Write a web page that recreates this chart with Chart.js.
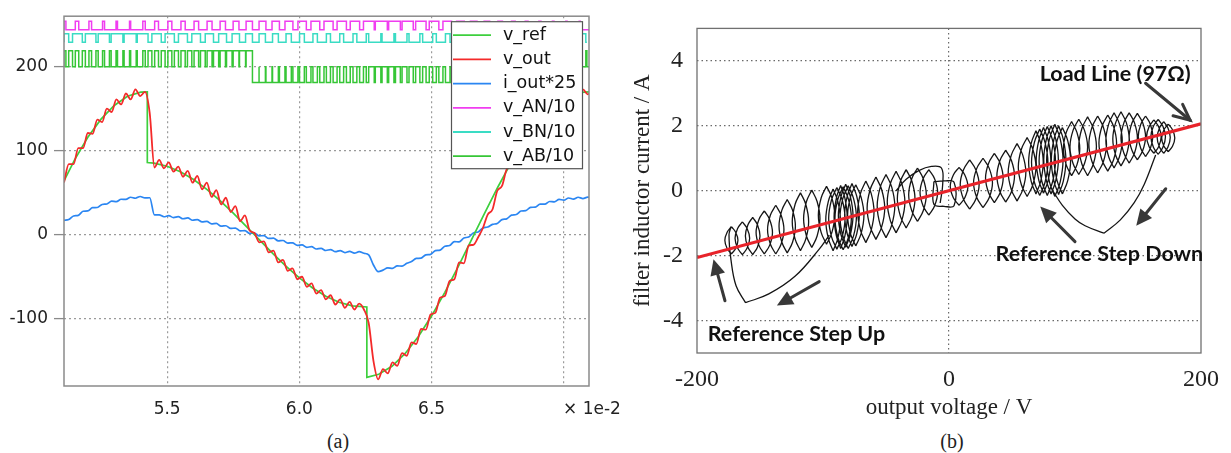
<!DOCTYPE html>
<html>
<head>
<meta charset="utf-8">
<script src="https://cdn.jsdelivr.net/npm/chart.js@4.4.1/dist/chart.umd.min.js"></script>
<style>
body { margin:0; background:#fff; width:1231px; height:453px; position:relative; overflow:hidden; }
#wrapA { position:absolute; left:0; top:0; width:625px; height:425px; }
#wrapB { position:absolute; left:625px; top:0; width:606px; height:425px; }
.cap { position:absolute; top:430px; font-family:'Liberation Serif'; font-size:20px; color:#222; transform:translateX(-50%); }
</style>
</head>
<body>
<div id="wrapA"><canvas id="chartA" width="625" height="425"></canvas></div>
<div id="wrapB"><canvas id="chartB" width="606" height="425"></canvas></div>
<div class="cap" style="left:338px">(a)</div>
<div class="cap" style="left:952px">(b)</div>
<script>
// ---------- panel (a): simulated waveforms, time in units of 1e-2 s ----------
const sampleStart = 5.11;
const sampleStep = 0.018;

const vOut = [
  62, 84, 84, 103, 103, 121, 120, 137, 134, 150,
  146, 161, 155, 168, 161, 173, 165, 170, 145, 80,
  89, 79, 86, 75, 81, 69, 76, 62, 70, 54,
  62, 45, 53, 36, 44, 27, 34, 16, 23, 5,
  2, -9, -8, -21, -19, -33, -30, -43, -40, -53,
  -50, -62, -58, -70, -66, -77, -72, -83, -77, -87,
  -80, -89, -82, -89, -105, -150, -172, -160, -165, -152,
  -156, -141, -144, -128, -130, -112, -113, -95, -93, -75,
  -73, -55, -53, -33, -34, -13, -12, -3, 8, 24,
  30, 52, 58, 78, 83, 101, 102, 119, 119, 135,
  134, 148, 146, 159, 156, 167, 162, 172, 165, 173,
  167, 172
];

const iOut25 = [
  17.1, 18.0, 22.3, 23.0, 27.9, 28.3, 32.2, 32.4, 36.0, 36.6,
  39.9, 39.3, 42.2, 42.1, 44.6, 43.4, 45.5, 43.8, 44.0, 23.5,
  23.6, 21.4, 22.7, 20.4, 21.5, 19.0, 20.0, 17.2, 18.0, 15.2,
  15.8, 12.8, 13.4, 10.2, 10.7, 7.5, 7.9, 4.6, 4.9, 1.6,
  1.9, -1.4, -1.1, -4.4, -4.1, -7.3, -6.9, -10.0, -9.6, -12.6,
  -12.0, -15.0, -14.2, -17.0, -16.2, -18.8, -17.7, -20.2, -18.9, -21.2,
  -19.8, -21.9, -20.2, -22.1, -24.0, -36.0, -44.0, -42.1, -39.4, -40.1,
  -37.1, -37.4, -34.0, -32.0, -28.2, -27.9, -23.9, -23.3, -19.0, -18.3,
  -13.8, -12.8, -8.2, -8.6, -3.9, -2.7, 2.1, 3.3, 8.0, 9.1,
  12.3, 13.4, 18.0, 18.9, 23.3, 24.0, 28.2, 28.6, 32.6, 32.8,
  36.4, 36.3, 39.5, 39.1, 42.0, 41.1, 43.7, 42.4, 44.6, 43.0,
  44.7, 43.5
];

const vRefT = [5.11, 5.15, 5.20, 5.25, 5.30, 5.35, 5.40, 5.425, 5.425, 5.45, 5.50, 5.55, 5.60, 5.65,
  5.70, 5.75, 5.80, 5.83, 5.85, 5.90, 5.95, 6.00, 6.05, 6.10, 6.15, 6.20, 6.255, 6.255, 6.30,
  6.35, 6.40, 6.45, 6.50, 6.55, 6.60, 6.65, 6.70, 6.75, 6.80, 6.85, 6.90, 6.95, 7.00, 7.05, 7.095];
const vRefV = [64, 89, 116, 137.5, 153.8, 164.7, 169.7, 170, 85.9, 85.2, 81.5, 74.9, 65.6, 54,
  40.5, 25.6, 9.7, 0, -6.5, -22.4, -37.6, -51.4, -63.4, -73.2, -80.3, -84.7, -86, -169.8, -166,
  -156.5, -141.3, -121, -96.5, -68.6, -38.2, -6.5, 25.4, 56.5, 85.5, 111.5, 133.6, 151, 162.9, 169.1, 170];

// switching signals: duty of each carrier period
const carrierStart = 5.11;
const carrierT = 0.05;
const anDuty = [0.71, 0.77, 0.83, 0.87, 0.91, 0.92, 0.71, 0.71, 0.69, 0.67, 0.64, 0.61, 0.58, 0.54,
  0.50, 0.46, 0.42, 0.38, 0.35, 0.32, 0.30, 0.29, 0.29, 0.08, 0.10, 0.13, 0.18, 0.24, 0.31, 0.38,
  0.46, 0.54, 0.62, 0.69, 0.76, 0.82, 0.87, 0.90, 0.92, 0.92];
const bnDuty = [0.29, 0.23, 0.17, 0.13, 0.09, 0.08, 0.29, 0.29, 0.31, 0.33, 0.36, 0.39, 0.42, 0.46,
  0.50, 0.54, 0.58, 0.62, 0.65, 0.68, 0.70, 0.71, 0.71, 0.92, 0.90, 0.87, 0.82, 0.76, 0.69, 0.62,
  0.54, 0.46, 0.38, 0.31, 0.24, 0.18, 0.13, 0.10, 0.08, 0.08];
const anLevels = [244, 254];
const bnLevels = [229, 239];
const abLevels = [181, 200, 219];

const xTicksA = [5.5, 6.0, 6.5, 7.0];
const yTicksA = [-100, 0, 100, 200];

// ---------- panel (b): inductor current vs output voltage ----------
// ripple loops (one lens per switching cycle): voltage, top and bottom current, half width in V
const lensV = [-172.7, -164, -155.8, -146.6, -137.5, -128.4, -117.9, -108.9, -97.2,
  -92, -89, -86, -84, -82, -80, -77, -74,
  -66, -58, -50, -42, -34, -25, -16,
  8, 16.4, 27, 36, 45, 54, 62, 69, 72, 75, 78, 81, 84, 87, 90,
  97.3, 103, 110, 118, 126, 131, 136.5, 143, 149.5, 156, 162.6, 166, 170.4, 174];
const lensTop = [-1.11, -0.96, -0.82, -0.62, -0.45, -0.27, -0.06, 0.02, 0.14,
  0.05, 0.1, 0.16, 0.12, 0.2, 0.15, 0.22, 0.18,
  0.3, 0.42, 0.5, 0.6, 0.65, 0.7, 0.65,
  0.72, 0.95, 1.0, 1.15, 1.25, 1.45, 1.64, 1.85, 1.9, 1.95, 1.98, 2.0, 2.05, 2.0, 1.95,
  2.13, 2.2, 2.28, 2.3, 2.33, 2.4, 2.43, 2.4, 2.38, 2.3, 2.18, 2.2, 2.13, 2.05];
const lensBot = [-1.95, -1.97, -1.97, -1.95, -1.95, -1.92, -1.85, -1.75, -1.65,
  -1.85, -1.8, -1.78, -1.82, -1.74, -1.78, -1.72, -1.7,
  -1.6, -1.5, -1.45, -1.3, -1.15, -0.95, -0.75,
  -0.45, -0.57, -0.52, -0.37, -0.35, -0.32, -0.18, -0.1, -0.15, -0.08, -0.15, -0.1, -0.18, -0.12, -0.1,
  0.46, 0.5, 0.46, 0.55, 0.6, 0.7, 0.76, 0.85, 0.95, 1.05, 1.15, 1.12, 1.15, 1.2];
const lensW = [5.2, 5.8, 5.8, 6.5, 6.5, 6.5, 6.5, 6.5, 6.5,
  5.8, 6.5, 5.2, 6.5, 5.8, 6.5, 5.8, 6.5,
  6.5, 7, 7, 7, 7, 7, 7,
  7, 7.5, 7.5, 7, 7, 7, 7, 5.8, 6.5, 5.8, 6.5, 5.8, 6.5, 5.8, 6.5,
  6.5, 7, 7, 7, 7, 6.5, 6.5, 6.5, 6.5, 5.8, 5.8, 5.8, 5.2, 5.2];

// transient excursions after the reference steps, and the wiggle around 0 V
const downRightV = [164, 155, 147, 136, 123];
const downRightI = [1.1, 0.2, -0.37, -0.9, -1.31];
const downLeftV = [123, 108, 100, 90, 82];
const downLeftI = [-1.31, -1.08, -0.87, -0.45, 0.02];
const upRightV = [-95, -103, -122, -143, -161.5];
const upRightI = [-1.37, -1.8, -2.63, -3.18, -3.45];
const upLeftV = [-161.5, -169, -173, -174.6, -173];
const upLeftI = [-3.45, -2.93, -2.14, -1.36, -1.11];
const zeroArcV = [-42, -34, -24, -14, -6, -5, -7];
const zeroArcI = [0.0, 0.35, 0.62, 0.75, 0.7, 0.2, -0.38];
const zeroBoxV = [-12, -12, -4, 4, 4, -4, -12];
const zeroBoxI = [0.28, -0.42, -0.48, -0.46, 0.26, 0.3, 0.28];

const loadV = [-200, 200];
const loadI = [-2.06, 2.06];

const xTicksB = [-200, 0, 200];
const yTicksB = [-4, -2, 0, 2, 4];

// annotations, in data units
const notes = [
  { text: 'Load Line (97Ω)', v: 72, i: 3.6 },
  { text: 'Reference Step Down', v: 37, i: -1.95 },
  { text: 'Reference Step Up', v: -191.5, i: -4.42 }
];
const arrows = [
  { from: [156, 3.31], to: [191.4, 2.17], open: true },
  { from: [172, 0.06], to: [148.6, -1.08] },
  { from: [100, -1.57], to: [72.4, -0.49] },
  { from: [-103, -2.8], to: [-136.6, -3.54] },
  { from: [-177.8, -3.39], to: [-186.9, -2.11] }
];

// ---------- build panel (a) ----------
const sampled = arr => arr.map((y, k) => ({ x: sampleStart + k * sampleStep, y }));

function pwmEdges(duty) {
  const edges = [];
  duty.forEach((d, n) => {
    const c = carrierStart + (n + 0.5) * carrierT;
    edges.push({ t: c - d * carrierT / 2, on: 1 }, { t: c + d * carrierT / 2, on: 0 });
  });
  return edges;
}
function toSteps(edges, levels) {
  const pts = [{ x: carrierStart, y: levels[0] }];
  edges.forEach(e => pts.push({ x: e.t, y: levels[e.on] }));
  return pts;
}
const anEdges = pwmEdges(anDuty);
const bnEdges = pwmEdges(bnDuty);
// v_AB = v_AN - v_BN
const abPts = [{ x: carrierStart, y: abLevels[1] }];
let sa = 0, sb = 0;
anEdges.map(e => ({ ...e, leg: 'a' })).concat(bnEdges.map(e => ({ ...e, leg: 'b' })))
  .sort((p, q) => p.t - q.t)
  .forEach(e => {
    if (e.leg === 'a') sa = e.on; else sb = e.on;
    abPts.push({ x: e.t, y: abLevels[1 + sa - sb] });
  });

const fontA = 'DejaVu Sans';

const frame = {
  id: 'frame',
  afterDatasetsDraw(chart, args, opts) {
    const { ctx, chartArea: ca } = chart;
    ctx.save();
    ctx.strokeStyle = opts.color;
    ctx.lineWidth = opts.width;
    ctx.strokeRect(ca.left, ca.top, ca.right - ca.left, ca.bottom - ca.top);
    ctx.restore();
  }
};

const legendA = {
  id: 'legendA',
  afterDatasetsDraw(chart) {
    const { ctx, chartArea: ca } = chart;
    const x0 = ca.right - 138, y0 = ca.top + 5, w = 131, h = 147;
    ctx.save();
    ctx.fillStyle = '#fff';
    ctx.fillRect(x0, y0, w, h);
    ctx.strokeStyle = '#555';
    ctx.lineWidth = 1.2;
    ctx.strokeRect(x0 + 0.5, y0 + 0.5, w, h);
    ctx.font = `17.5px '${fontA}'`;
    ctx.textBaseline = 'middle';
    chart.data.datasets.forEach((ds, i) => {
      const y = y0 + 14 + i * 24.2;
      ctx.strokeStyle = ds.borderColor;
      ctx.lineWidth = 1.8;
      ctx.beginPath();
      ctx.moveTo(x0 + 2, y);
      ctx.lineTo(x0 + 40, y);
      ctx.stroke();
      ctx.fillStyle = '#111';
      ctx.fillText(ds.label, x0 + 52, y);
    });
    ctx.restore();
  }
};

const sciLabel = {
  id: 'sciLabel',
  afterDraw(chart) {
    const { ctx, chartArea: ca } = chart;
    ctx.save();
    ctx.font = `17px '${fontA}'`;
    ctx.fillStyle = '#222';
    ctx.textBaseline = 'middle';
    ctx.fillText('× 1e-2', ca.right - 26, ca.bottom + 24);
    ctx.restore();
  }
};

new Chart(document.getElementById('chartA'), {
  type: 'line',
  data: {
    datasets: [
      { label: 'v_ref', data: vRefT.map((x, i) => ({ x, y: vRefV[i] })), borderColor: '#3dcf3d', borderWidth: 1.7, tension: 0, order: 2 },
      { label: 'v_out', data: sampled(vOut), borderColor: '#f42a2a', borderWidth: 1.8, cubicInterpolationMode: 'monotone', order: 1 },
      { label: 'i_out*25', data: sampled(iOut25), borderColor: '#2b86f2', borderWidth: 1.7, cubicInterpolationMode: 'monotone', order: 3 },
      { label: 'v_AN/10', data: toSteps(anEdges, anLevels), borderColor: '#f03df0', borderWidth: 1.5, stepped: 'after', order: 4 },
      { label: 'v_BN/10', data: toSteps(bnEdges, bnLevels), borderColor: '#3adcc4', borderWidth: 1.5, stepped: 'after', order: 4 },
      { label: 'v_AB/10', data: abPts, borderColor: '#36c636', borderWidth: 1.5, stepped: 'after', order: 4 }
    ]
  },
  options: {
    responsive: false,
    animation: false,
    events: [],
    elements: { point: { radius: 0 } },
    layout: { padding: { left: 0, top: 10, right: 36, bottom: 0 } },
    plugins: { legend: { display: false }, tooltip: { enabled: false }, frame: { color: '#8a8a8a', width: 1.5 } },
    scales: {
      x: {
        type: 'linear', min: 5.11, max: 7.095,
        afterBuildTicks: s => { s.ticks = xTicksA.map(value => ({ value })); },
        afterFit: s => { s.height = 39; },
        ticks: { autoSkip: false, maxRotation: 0, padding: 13, color: '#222', font: { family: fontA, size: 17 },
          callback: v => (v === 7 ? '' : v.toFixed(1)) },
        grid: { color: '#9a9a9a', lineWidth: 1.2, drawTicks: false },
        border: { display: false, dash: [2, 3] }
      },
      y: {
        min: -180, max: 260,
        afterBuildTicks: s => { s.ticks = yTicksA.map(value => ({ value })); },
        afterFit: s => { s.width = 64; },
        ticks: { padding: 6, color: '#222', font: { family: fontA, size: 17 } },
        grid: { color: '#9a9a9a', lineWidth: 1.2, tickLength: 10, tickColor: '#8a8a8a', tickWidth: 1.3, tickBorderDash: [0, 0] },
        border: { display: false, dash: [2, 3] }
      }
    }
  },
  plugins: [frame, legendA, sciLabel]
});

// ---------- build panel (b) ----------
// each lens is drawn as two separate arcs so that both tips stay pointed
const arcShape = [[0, 1], [0.65, 0.6], [1, 0], [0.65, -0.6], [0, -1]];
const loopPts = [];
const gap = v => loopPts.push({ x: v, y: null });
lensV.forEach((v, k) => {
  const mid = (lensTop[k] + lensBot[k]) / 2, h = (lensTop[k] - lensBot[k]) / 2;
  [1, -1].forEach(side => {
    arcShape.forEach(([a, b]) => loopPts.push({ x: v + side * a * lensW[k], y: mid + b * h }));
    gap(v);
  });
});
[[downRightV, downRightI], [downLeftV, downLeftI], [upRightV, upRightI], [upLeftV, upLeftI],
 [zeroArcV, zeroArcI], [zeroBoxV, zeroBoxI]].forEach(([vs, is]) => {
  vs.forEach((v, k) => loopPts.push({ x: v, y: is[k] }));
  gap(vs[0]);
});

const fontB = 'Liberation Serif';

function drawArrow(ctx, x1, y1, x2, y2, open) {
  const ang = Math.atan2(y2 - y1, x2 - x1), L = 16, W = 7.5;
  const bx = x2 - L * Math.cos(ang), by = y2 - L * Math.sin(ang);
  const px = -Math.sin(ang) * W, py = Math.cos(ang) * W;
  ctx.beginPath();
  ctx.moveTo(x1, y1);
  ctx.lineTo(open ? x2 : bx + 2 * Math.cos(ang), open ? y2 : by + 2 * Math.sin(ang));
  ctx.stroke();
  ctx.beginPath();
  if (open) {
    ctx.moveTo(bx + px, by + py); ctx.lineTo(x2, y2); ctx.lineTo(bx - px, by - py);
    ctx.stroke();
  } else {
    ctx.moveTo(x2, y2); ctx.lineTo(bx + px, by + py); ctx.lineTo(bx - px, by - py);
    ctx.closePath();
    ctx.fill();
  }
}

const notesB = {
  id: 'notesB',
  afterDatasetsDraw(chart) {
    const { ctx, scales: { x, y } } = chart;
    ctx.save();
    ctx.strokeStyle = '#383838';
    ctx.fillStyle = '#383838';
    ctx.lineWidth = 3;
    ctx.lineCap = 'round';
    arrows.forEach(a => drawArrow(ctx, x.getPixelForValue(a.from[0]), y.getPixelForValue(a.from[1]),
      x.getPixelForValue(a.to[0]), y.getPixelForValue(a.to[1]), a.open));
    ctx.font = "bold 21.5px 'Lato'";
    ctx.fillStyle = '#111';
    ctx.textBaseline = 'middle';
    notes.forEach(n => ctx.fillText(n.text, x.getPixelForValue(n.v), y.getPixelForValue(n.i)));
    ctx.restore();
  }
};

new Chart(document.getElementById('chartB'), {
  type: 'scatter',
  data: {
    datasets: [
      { label: 'load line', data: loadV.map((v, i) => ({ x: v, y: loadI[i] })), showLine: true, borderColor: '#e8232a', borderWidth: 3.2, order: 1 },
      { label: 'trajectory', data: loopPts, showLine: true, spanGaps: false, borderColor: '#151515', borderWidth: 1.3, tension: 0.4, order: 2 }
    ]
  },
  options: {
    responsive: false,
    animation: false,
    events: [],
    elements: { point: { radius: 0 } },
    layout: { padding: { left: 0, top: 15, right: 23, bottom: 0 } },
    plugins: { legend: { display: false }, tooltip: { enabled: false }, frame: { color: '#707070', width: 1.3 } },
    scales: {
      x: {
        type: 'linear', min: -200, max: 200,
        afterBuildTicks: s => { s.ticks = xTicksB.map(value => ({ value })); },
        afterFit: s => { s.height = 72; },
        ticks: { autoSkip: false, maxRotation: 0, padding: 12, color: '#222', font: { family: fontB, size: 24 } },
        grid: { color: c => (c.tick && c.tick.value === 0 ? '#6a6a6a' : 'transparent'), lineWidth: 1.2, drawTicks: false },
        border: { display: false, dash: [1.5, 3] },
        title: { display: true, text: 'output voltage / V', color: '#222', font: { family: fontB, size: 23 }, padding: { top: 0, bottom: 3 } }
      },
      y: {
        min: -5, max: 5,
        afterBuildTicks: s => { s.ticks = yTicksB.map(value => ({ value })); },
        afterFit: s => { s.width = 72; },
        ticks: { padding: 14, color: '#222', font: { family: fontB, size: 24 } },
        grid: { color: '#6a6a6a', lineWidth: 1.2, drawTicks: false },
        border: { display: false, dash: [1.5, 3] },
        title: { display: true, text: 'filter inductor current / A', color: '#222', font: { family: fontB, size: 23 }, padding: { top: 4, bottom: 0 } }
      }
    }
  },
  plugins: [frame, notesB]
});
</script>
</body>
</html>
